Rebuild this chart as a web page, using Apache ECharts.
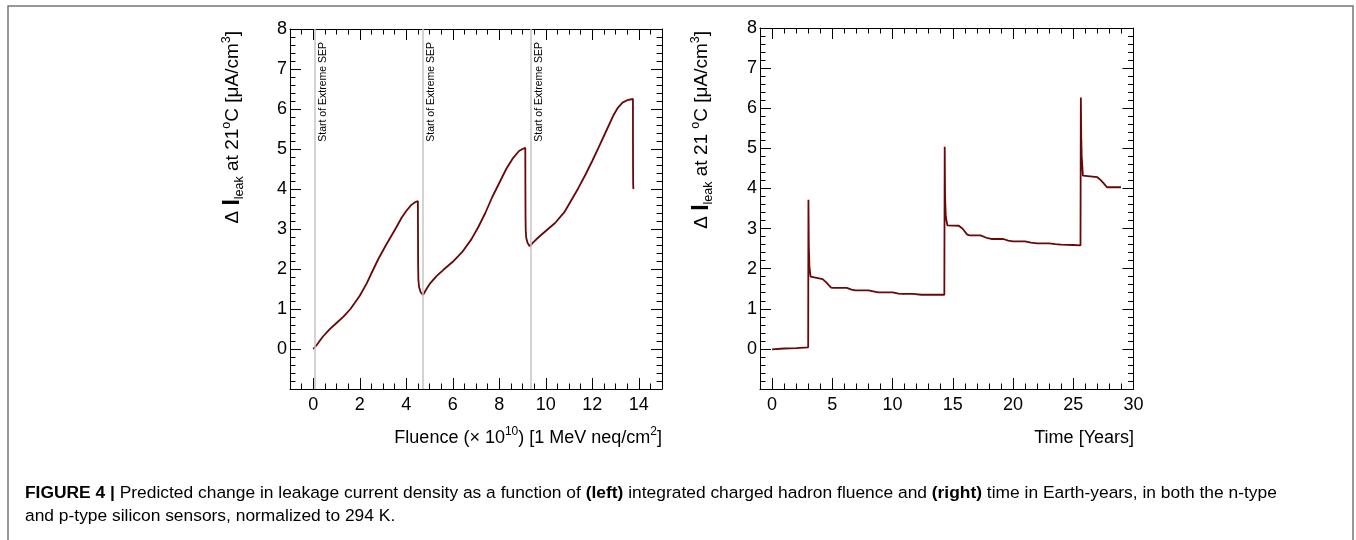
<!DOCTYPE html>
<html>
<head>
<meta charset="utf-8">
<script src="https://cdn.jsdelivr.net/npm/echarts@6/dist/echarts.min.js"></script>
<style>
  html, body { margin: 0; padding: 0; background: #fff; }
  #chart { width: 1356px; height: 540px; }
</style>
</head>
<body>
<div id="chart"></div>
<script>
// Leakage current vs. integrated fluence (x 1e10 1 MeV neq/cm^2)
const fluence = [
  0.00, 0.15, 0.40, 0.70, 1.00, 1.30, 1.60, 2.00, 2.30, 2.55, 2.80, 3.10, 3.35, 3.55, 3.80, 4.00, 4.20, 4.35, 4.50,
  4.505, 4.51, 4.52, 4.55, 4.62, 4.72,
  4.85, 5.00, 5.30, 5.60, 6.00, 6.40, 6.80, 7.10, 7.40, 7.70, 8.00, 8.30, 8.60, 8.85, 9.00, 9.12,
  9.125, 9.13, 9.14, 9.16, 9.22, 9.31,
  9.45, 9.70, 10.00, 10.40, 10.80, 11.10, 11.40, 11.70, 12.00, 12.30, 12.60, 12.90, 13.10, 13.30, 13.50, 13.75,
  13.752, 13.755, 13.76, 13.77
];
const leakFluence = [
  0.00, 0.10, 0.30, 0.49, 0.65, 0.81, 1.00, 1.33, 1.64, 1.95, 2.25, 2.57, 2.82, 3.02, 3.28, 3.45, 3.59, 3.66, 3.70,
  3.00, 2.20, 1.75, 1.55, 1.42, 1.35,
  1.48, 1.62, 1.82, 1.98, 2.18, 2.42, 2.74, 3.05, 3.40, 3.80, 4.15, 4.50, 4.78, 4.95, 5.00, 5.03,
  4.00, 3.30, 2.95, 2.78, 2.65, 2.57,
  2.66, 2.80, 2.95, 3.15, 3.42, 3.72, 4.02, 4.35, 4.70, 5.07, 5.45, 5.83, 6.03, 6.16, 6.22, 6.25,
  5.20, 4.50, 4.12, 4.00
];

// Leakage current vs. time (Earth-years)
const years = [
  0.00, 1.00, 2.00, 3.00, 3.02, 3.05, 3.10, 3.20, 3.30, 4.20, 4.50, 4.90, 5.10, 6.20, 6.60, 6.90, 8.00, 8.50, 8.80,
  10.00, 10.50, 10.80, 11.70, 12.40, 14.30,
  14.33, 14.36, 14.42, 14.55, 15.50, 15.80, 16.20, 16.40, 17.30, 17.80, 18.20, 19.20, 19.60, 20.00, 21.00, 21.50,
  22.00, 23.00, 23.50, 24.00, 25.00, 25.60,
  25.63, 25.66, 25.70, 25.80, 27.00, 27.30, 27.60, 27.80, 28.96
];
const leakYears = [
  -0.01, 0.01, 0.02, 0.04, 3.72, 2.60, 2.05, 1.80, 1.76, 1.74, 1.66, 1.53, 1.52, 1.52, 1.48, 1.46, 1.46, 1.43, 1.41,
  1.41, 1.38, 1.37, 1.37, 1.35, 1.35,
  5.04, 3.80, 3.30, 3.08, 3.07, 3.00, 2.85, 2.83, 2.83, 2.77, 2.74, 2.74, 2.70, 2.68, 2.68, 2.65,
  2.63, 2.63, 2.61, 2.60, 2.59, 2.58,
  6.27, 5.30, 4.80, 4.32, 4.28, 4.20, 4.10, 4.03, 4.03
];

// Fluence at which each extreme solar energetic particle event begins
const sepStarts = [0.07, 4.70, 9.34];
const sepLabel = 'Start of Extreme SEP';

// Tick labels
const fluenceTicks = [0, 2, 4, 6, 8, 10, 12, 14];
const yearTicks = [0, 5, 10, 15, 20, 25, 30];
const leakTicks = [0, 1, 2, 3, 4, 5, 6, 7, 8];

const FONT = '"Liberation Sans", Arial, Helvetica, sans-serif';
const LINE_COLOR = '#6a0808';

function steps(from, to, step) {
  const out = [];
  for (let v = from; v <= to + 1e-9; v += step) out.push(+v.toFixed(3));
  return out;
}

const axisLineStyle = { show: true, onZero: false, lineStyle: { color: '#000', width: 1 } };

// Four x axes per frame: bottom (major + labels), bottom minor, top major, top minor
function frameXAxes(gridIndex, min, max, major, minor, labels) {
  const base = { type: 'value', gridIndex, min, max, splitLine: { show: false } };
  return [
    Object.assign({}, base, {
      position: 'bottom', axisLine: axisLineStyle,
      axisTick: { show: true, inside: true, length: 11, customValues: major, lineStyle: { color: '#000' } },
      axisLabel: { show: true, customValues: labels, color: '#000', fontSize: 18, fontFamily: FONT, margin: 7 }
    }),
    Object.assign({}, base, {
      position: 'bottom', axisLine: { show: false, onZero: false },
      axisTick: { show: true, inside: true, length: 5.5, customValues: minor, lineStyle: { color: '#000' } },
      axisLabel: { show: false }
    }),
    Object.assign({}, base, {
      position: 'top', axisLine: axisLineStyle,
      axisTick: { show: true, inside: true, length: 11, customValues: major, lineStyle: { color: '#000' } },
      axisLabel: { show: false }
    }),
    Object.assign({}, base, {
      position: 'top', axisLine: { show: false, onZero: false },
      axisTick: { show: true, inside: true, length: 5.5, customValues: minor, lineStyle: { color: '#000' } },
      axisLabel: { show: false }
    })
  ];
}

// Two y axes per frame: left (labels) and right mirror
function frameYAxes(gridIndex) {
  const base = {
    type: 'value', gridIndex, min: -1, max: 8, interval: 1,
    splitLine: { show: false }, minorSplitLine: { show: false },
    axisLine: axisLineStyle,
    axisTick: { show: true, inside: true, length: 11, lineStyle: { color: '#000' } },
    minorTick: { show: true, splitNumber: 5, length: 5.5, lineStyle: { color: '#000' } }
  };
  return [
    Object.assign({}, base, {
      position: 'left',
      axisLabel: { show: true, customValues: leakTicks, color: '#000', fontSize: 18, fontFamily: FONT, margin: 3 }
    }),
    Object.assign({}, base, { position: 'right', axisLabel: { show: false } })
  ];
}

const xAxes = [].concat(
  frameXAxes(0, -1, 15, fluenceTicks, steps(-1, 15, 0.5), fluenceTicks),
  frameXAxes(1, -1, 30, yearTicks, steps(-1, 30, 1), yearTicks)
);
const yAxes = [].concat(frameYAxes(0), frameYAxes(1));

const titleRich = {
  n: { fontSize: 19, fontFamily: FONT, color: '#000', lineHeight: 26 },
  I: { fontSize: 23, fontFamily: FONT, fontWeight: 'bold', color: '#000', lineHeight: 26 },
  sub: { fontSize: 12.5, fontFamily: FONT, color: '#000', verticalAlign: 'bottom', lineHeight: 24 },
  sup: { fontSize: 12.5, fontFamily: FONT, color: '#000', verticalAlign: 'top', lineHeight: 20 }
};
const xTitleRich = {
  n: { fontSize: 18, fontFamily: FONT, color: '#000', lineHeight: 24 },
  sup: { fontSize: 12, fontFamily: FONT, color: '#000', verticalAlign: 'top', lineHeight: 18 }
};

const captionRich = {
  n: { fontSize: 17.4, fontFamily: FONT, color: '#222' },
  b: { fontSize: 17.4, fontFamily: FONT, fontWeight: 'bold', color: '#111' }
};

const chart = echarts.init(document.getElementById('chart'), null, { renderer: 'canvas' });

chart.setOption({
  animation: false,
  backgroundColor: '#fff',
  grid: [
    { left: 290, top: 29, width: 372, height: 360 },
    { left: 760, top: 28, width: 373.5, height: 361 }
  ],
  xAxis: xAxes,
  yAxis: yAxes,
  series: [
    {
      type: 'line', xAxisIndex: 0, yAxisIndex: 0,
      data: fluence.map((x, i) => [x, leakFluence[i]]),
      showSymbol: false, symbol: 'none',
      lineStyle: { color: LINE_COLOR, width: 1.8 },
      markLine: {
        silent: true, symbol: 'none',
        lineStyle: { color: '#c4c4c4', width: 1.5, type: 'solid' },
        label: {
          show: true, position: 'insideEndBottom', formatter: sepLabel,
          fontSize: 10.5, fontFamily: FONT, color: '#000', distance: [13, 3]
        },
        data: sepStarts.map(v => ({ xAxis: v }))
      }
    },
    {
      type: 'line', xAxisIndex: 4, yAxisIndex: 2,
      data: years.map((x, i) => [x, leakYears[i]]),
      showSymbol: false, symbol: 'none',
      lineStyle: { color: LINE_COLOR, width: 1.8 }
    }
  ],
  graphic: [
    {
      type: 'rect', silent: true,
      shape: { x: 8, y: 6, width: 1345, height: 600 },
      style: { fill: null, stroke: '#777', lineWidth: 1.5 }
    },
    {
      type: 'text', x: 233, y: 31, rotation: Math.PI / 2,
      style: {
        text: '{n|Δ }{I|I}{sub|leak}{n| at 21}{sup|o}{n|C [μA/cm}{sup|3}{n|]}',
        rich: titleRich, align: 'right', verticalAlign: 'middle'
      }
    },
    {
      type: 'text', x: 702, y: 31, rotation: Math.PI / 2,
      style: {
        text: '{n|Δ }{I|I}{sub|leak}{n| at 21 }{sup|o}{n|C [μA/cm}{sup|3}{n|]}',
        rich: titleRich, align: 'right', verticalAlign: 'middle'
      }
    },
    {
      type: 'text', x: 662, y: 438,
      style: {
        text: '{n|Fluence (× 10}{sup|10}{n|) [1 MeV neq/cm}{sup|2}{n|]}',
        rich: xTitleRich, align: 'right', verticalAlign: 'middle'
      }
    },
    {
      type: 'text', x: 1134, y: 438,
      style: { text: '{n|Time [Years]}', rich: xTitleRich, align: 'right', verticalAlign: 'middle' }
    },
    {
      type: 'text', x: 25, y: 493,
      style: {
        text: '{b|FIGURE 4 | }{n|Predicted change in leakage current density as a function of }{b|(left)}{n| integrated charged hadron fluence and }{b|(right)}{n| time in Earth-years, in both the n-type}',
        rich: captionRich, align: 'left', verticalAlign: 'middle'
      }
    },
    {
      type: 'text', x: 25, y: 516,
      style: {
        text: '{n|and p-type silicon sensors, normalized to 294 K.}',
        rich: captionRich, align: 'left', verticalAlign: 'middle'
      }
    }
  ]
});
</script>
</body>
</html>
